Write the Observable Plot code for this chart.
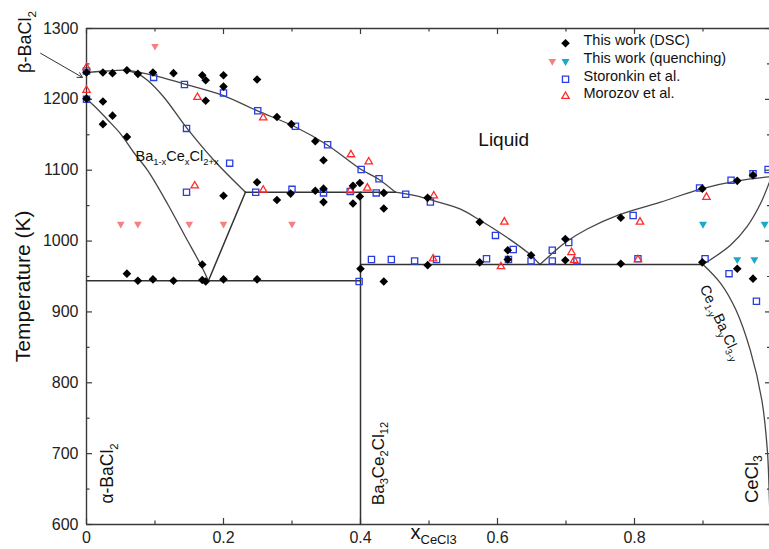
<!DOCTYPE html>
<html>
<head>
<meta charset="utf-8">
<script src="https://cdn.jsdelivr.net/npm/d3@7"></script>
<script src="https://cdn.jsdelivr.net/npm/@observablehq/plot@0.6"></script>
<style>
  html, body { margin: 0; padding: 0; background: white; }
  #chart { width: 769px; height: 549px; overflow: hidden; }
</style>
</head>
<body>
<div id="chart"></div>
<script>
// ---------- data (x = mole fraction CeCl3, T = temperature in K) ----------
const dscPoints = [
  [0,1238],[0.024,1238],[0.038,1237],[0.059,1241],[0.075,1236],[0.097,1238],[0.127,1237],
  [0.169,1234],[0.174,1227],[0.2,1234],[0.2,1218],[0.174,1198],[0.249,1228],[0.278,1175],
  [0,1201],[0.024,1197],[0.038,1177],[0.024,1165],[0.059,1147],
  [0.059,954],[0.075,944],[0.097,946],[0.127,944],[0.169,967],[0.169,945],[0.174,943],[0.2,946],[0.249,946],
  [0.2,1064],[0.249,1083],[0.278,1058],[0.298,1067],
  [0.299,1165],[0.334,1141],[0.346,1114],[0.334,1071],[0.346,1074],[0.346,1055],
  [0.389,1078],[0.399,1082],[0.389,1053],[0.399,1063],[0.434,1068],[0.434,1046],
  [0.4,961],[0.434,943],[0.498,1061],[0.498,966],
  [0.574,1027],[0.574,970],[0.615,987],[0.615,974],[0.649,980],[0.699,1003],[0.699,973],
  [0.78,1033],[0.78,968],[0.899,1074],[0.899,970],[0.95,1085],[0.973,1093],[0.95,961],[0.973,947]
];
const quenchPinkPoints = [[0.05,1024],[0.075,1024],[0.15,1024],[0.2,1024],[0.3,1024],[0.1,1275]];
const quenchCyanPoints = [[0.9,1024],[0.99,1024],[0.95,974],[0.975,974]];
const storonkinPoints = [
  [0,1240],[0,1200],[0.098,1231],[0.143,1221],[0.2,1209],[0.25,1184],[0.146,1159],[0.209,1110],
  [0.146,1069],[0.247,1069],[0.3,1073],[0.305,1162],[0.352,1136],[0.401,1101],[0.427,1088],
  [0.346,1068],[0.385,1070],[0.423,1068],[0.466,1066],[0.502,1055],
  [0.416,974],[0.445,974],[0.479,972],[0.511,974],[0.398,943],
  [0.597,1008],[0.584,975],[0.623,988],[0.616,974],[0.649,972],[0.68,987],[0.68,972],[0.704,998],[0.716,972],
  [0.798,1036],[0.805,975],[0.895,1075],[0.903,975],[0.941,1086],[0.973,1095],[0.938,954],[0.978,915],[0.995,1101]
];
const morozovPoints = [
  [0,1245],[0,1213],[0.162,1203],[0.258,1174],[0.158,1078],[0.258,1072],[0.386,1122],[0.412,1112],
  [0.41,1075],[0.385,1071],[0.507,1064],[0.506,975],[0.61,1027],[0.605,964],[0.708,984],[0.712,973],
  [0.808,1027],[0.805,974],[0.905,1062]
];

// phase boundaries
const liquidusLeft = [[0,1238],[0.03,1240],[0.059,1241],[0.098,1234],[0.142,1222],[0.198,1206],[0.249,1184],[0.305,1161],[0.351,1136],[0.401,1101],[0.427,1087],[0.451,1069]];
const liquidusMid = [[0.451,1069],[0.48,1064],[0.51,1056],[0.546,1045],[0.575,1029],[0.614,1005],[0.645,983],[0.662,967]];
const liquidusRight = [[0.662,967],[0.677,980],[0.699,998],[0.731,1017],[0.777,1037],[0.838,1055],[0.899,1074],[0.95,1085],[1,1091]];
const solvusRightUpper = [[0.9,967],[0.94,994],[0.964,1020],[0.984,1053],[1,1091]];
const solvusRightLower = [[0.9,967],[0.926,940],[0.948,903],[0.969,846],[0.986,775],[0.994,704],[0.997,634],[0.998,600]];
const betaUpper = [[0.058,1241],[0.075,1236],[0.089,1227],[0.113,1203],[0.146,1160],[0.186,1114],[0.232,1069]];
const betaLower = [[0,1200],[0.011,1191],[0.03,1172],[0.05,1151],[0.069,1125],[0.089,1100],[0.118,1053],[0.145,1005],[0.166,968],[0.178,944]];
const betaRight = [[0.232,1069],[0.178,944]];
const eutectoidLine = [[0,944],[0.4,944]];
const peritecticLine = [[0.232,1069],[0.451,1069]];
const eutecticLine = [[0.4,967],[0.9,967]];
const compoundLine = [[0.4,600],[0.4,1069]];

// axes
const xTickVals = [0, 0.2, 0.4, 0.6, 0.8];
const xTickText = ["0", "0.2", "0.4", "0.6", "0.8"];
const xMinorVals = [0.1, 0.3, 0.5, 0.7, 0.9];
const yTickVals = [600, 700, 800, 900, 1000, 1100, 1200, 1300];
const yMinorVals = [650, 750, 850, 950, 1050, 1150, 1250];

const legendLabels = ["This work (DSC)", "This work (quenching)", "Storonkin et al.", "Morozov et al."];
const regionLabels = ["Liquid", "Ba_{1-x}Ce_{x}Cl_{2+x}", "Ce_{1-y}Ba_{y}Cl_{3-y}"];
const phaseLabels = ["β-BaCl_{2}", "α-BaCl_{2}", "Ba_{3}Ce_{2}Cl_{12}", "CeCl_{3}"];
const axisLabels = ["Temperature (K)", "x_{CeCl3}"];

// ---------- styling ----------
const W = 769, H = 549, ML = 86, MR = 0, MT = 28, MB = 25;
const FW = W - ML - MR, FH = H - MT - MB;
const frameColor = "#3a3a3a";
const lineColor = "#454545";
const font = "'Liberation Sans', Arial, sans-serif";

const diamond = {draw(ctx, size) { const r = Math.sqrt(size / Math.PI); ctx.moveTo(0, -r); ctx.lineTo(r, 0); ctx.lineTo(0, r); ctx.lineTo(-r, 0); ctx.closePath(); }};
const triDown = {draw(ctx, size) { const r = Math.sqrt(size / Math.PI); ctx.moveTo(-r, -0.577 * r); ctx.lineTo(r, -0.577 * r); ctx.lineTo(0, 1.155 * r); ctx.closePath(); }};
const triUp = {draw(ctx, size) { const r = Math.sqrt(size / Math.PI); ctx.moveTo(-r, 0.577 * r); ctx.lineTo(r, 0.577 * r); ctx.lineTo(0, -1.155 * r); ctx.closePath(); }};
const square = {draw(ctx, size) { const r = Math.sqrt(size / Math.PI); ctx.rect(-r, -r, 2 * r, 2 * r); }};

const curved = {liquidusLeft, liquidusMid, liquidusRight, solvusRightUpper, solvusRightLower, betaUpper, betaLower};
const straight = {betaRight, eutectoidLine, peritecticLine, eutecticLine, compoundLine};
const toRows = obj => Object.entries(obj).flatMap(([seg, pts]) => pts.map(([x, T]) => ({seg, x, T})));

const px = d => d[0], py = d => d[1];
const label = (text, x, T, opts) => Plot.text([text], {x, y: T, text: d => d, fill: "#111", ...opts});

const dsc = {symbol: diamond, r: 4.3, fill: "#000", stroke: "none"};
const pinkQ = {symbol: triDown, r: 3.8, fill: "#f4807f", stroke: "none"};
const cyanQ = {symbol: triDown, r: 4, fill: "#19aacb", stroke: "none"};
const stor = {symbol: square, r: 3.1, fill: "none", stroke: "#2a3ee0", strokeWidth: 1.3};
const moro = {symbol: triUp, r: 3.7, fill: "none", stroke: "#ff2b2b", strokeWidth: 1.3};

const legX = 0.6993, legX2 = 0.680, legTX = 0.7255;
const legT = [1283.1, 1257.7, 1232.3, 1208.3];

const chart = Plot.plot({
  width: W, height: H,
  marginLeft: ML, marginRight: MR, marginTop: MT, marginBottom: MB,
  style: {fontFamily: font, fontSize: "16px", background: "white", color: "#222"},
  x: {domain: [0, 1], range: [ML, 771], ticks: xTickVals, tickFormat: d => xTickText[xTickVals.indexOf(d)], tickSize: 0, tickPadding: 7, label: null},
  y: {domain: [600, 1300], ticks: yTickVals, tickFormat: d => String(d), tickSize: 0, tickPadding: 8, label: null},
  marks: [
    // frame
    Plot.ruleX([0, 1], {stroke: frameColor, strokeWidth: 1.4}),
    Plot.ruleY([600, 1300], {stroke: frameColor, strokeWidth: 1.4}),
    // inward ticks
    Plot.tickY(yTickVals, {y: d => d, insetRight: FW - 6, stroke: frameColor, strokeWidth: 1.2}),
    Plot.tickY(yMinorVals, {y: d => d, insetRight: FW - 3.5, stroke: frameColor, strokeWidth: 1.2}),
    Plot.tickY(yTickVals, {y: d => d, insetLeft: FW - 4, stroke: frameColor, strokeWidth: 1.2}),
    Plot.tickY(yMinorVals, {y: d => d, insetLeft: FW - 2, stroke: frameColor, strokeWidth: 1.2}),
    Plot.tickX(xTickVals, {x: d => d, insetTop: FH - 6, stroke: frameColor, strokeWidth: 1.2}),
    Plot.tickX(xMinorVals, {x: d => d, insetTop: FH - 3.5, stroke: frameColor, strokeWidth: 1.2}),
    Plot.tickX(xTickVals, {x: d => d, insetBottom: FH - 6, stroke: frameColor, strokeWidth: 1.2}),
    Plot.tickX(xMinorVals, {x: d => d, insetBottom: FH - 3.5, stroke: frameColor, strokeWidth: 1.2}),
    // boundaries
    Plot.line(toRows(curved), {x: "x", y: "T", z: "seg", curve: "catmull-rom", stroke: lineColor, strokeWidth: 1.3}),
    Plot.line(toRows(straight), {x: "x", y: "T", z: "seg", stroke: "#333", strokeWidth: 1.5}),
    // data points
    Plot.dot(storonkinPoints, {x: px, y: py, ...stor}),
    Plot.dot(morozovPoints, {x: px, y: py, ...moro}),
    Plot.dot(quenchPinkPoints, {x: px, y: py, ...pinkQ}),
    Plot.dot(quenchCyanPoints, {x: px, y: py, ...cyanQ}),
    Plot.dot(dscPoints, {x: px, y: py, ...dsc}),
    // legend
    Plot.dot([0], {x: legX, y: legT[0] - 4, ...dsc}),
    Plot.dot([0], {x: legX2, y: legT[1] - 4, ...pinkQ}),
    Plot.dot([0], {x: legX, y: legT[1] - 4, ...cyanQ}),
    Plot.dot([0], {x: legX, y: legT[2] - 4, ...stor}),
    Plot.dot([0], {x: legX, y: legT[3] - 4, ...moro}),
    Plot.text(legendLabels, {x: legTX, y: (d, i) => legT[i], text: d => d, textAnchor: "start", fontSize: 14.5, fill: "#111"}),
    // annotations
    label(regionLabels[0], 0.572, 1143, {textAnchor: "start", fontSize: 19}),
    label(regionLabels[1], 0.0715, 1119, {textAnchor: "start", fontSize: 14.5}),
    label(regionLabels[2], 0.926, 885, {rotate: 65, fontSize: 14.5}),
    label(phaseLabels[0], -0.089, 1281, {rotate: -90, fontSize: 18}),
    label(phaseLabels[1], 0.0307, 672, {rotate: -90, fontSize: 17.5}),
    label(phaseLabels[2], 0.426, 686, {rotate: -90, fontSize: 17}),
    label(phaseLabels[3], 0.971, 664, {rotate: -90, fontSize: 18.5}),
    label(axisLabels[0], -0.092, 936, {rotate: -90, fontSize: 21}),
    label(axisLabels[1], 0.473, 588, {textAnchor: "start", fontSize: 20}),
    Plot.arrow([0], {x1: -0.067, y1: 1265, x2: -0.006, y2: 1231, stroke: "#333", strokeWidth: 1, headLength: 8})
  ]
});

document.getElementById("chart").appendChild(chart);

// subscripts: "_{...}" -> shifted smaller tspans
(function applySubs(root) {
  const NS = "http://www.w3.org/2000/svg";
  root.querySelectorAll("text").forEach(el => {
    const s = el.textContent;
    if (!s.includes("_{")) return;
    const fs = parseFloat(getComputedStyle(el).fontSize) || 16;
    const shift = fs * 0.25;
    while (el.firstChild) el.removeChild(el.firstChild);
    let down = false;
    for (const p of s.split(/(_\{[^}]*\})/)) {
      if (!p) continue;
      const t = document.createElementNS(NS, "tspan");
      if (p.startsWith("_{")) {
        t.textContent = p.slice(2, -1);
        t.setAttribute("font-size", (fs * 0.65).toFixed(2));
        if (!down) { t.setAttribute("dy", shift.toFixed(2)); down = true; }
      } else {
        t.textContent = p;
        if (down) { t.setAttribute("dy", (-shift).toFixed(2)); down = false; }
      }
      el.appendChild(t);
    }
  });
})(chart);
</script>
</body>
</html>
